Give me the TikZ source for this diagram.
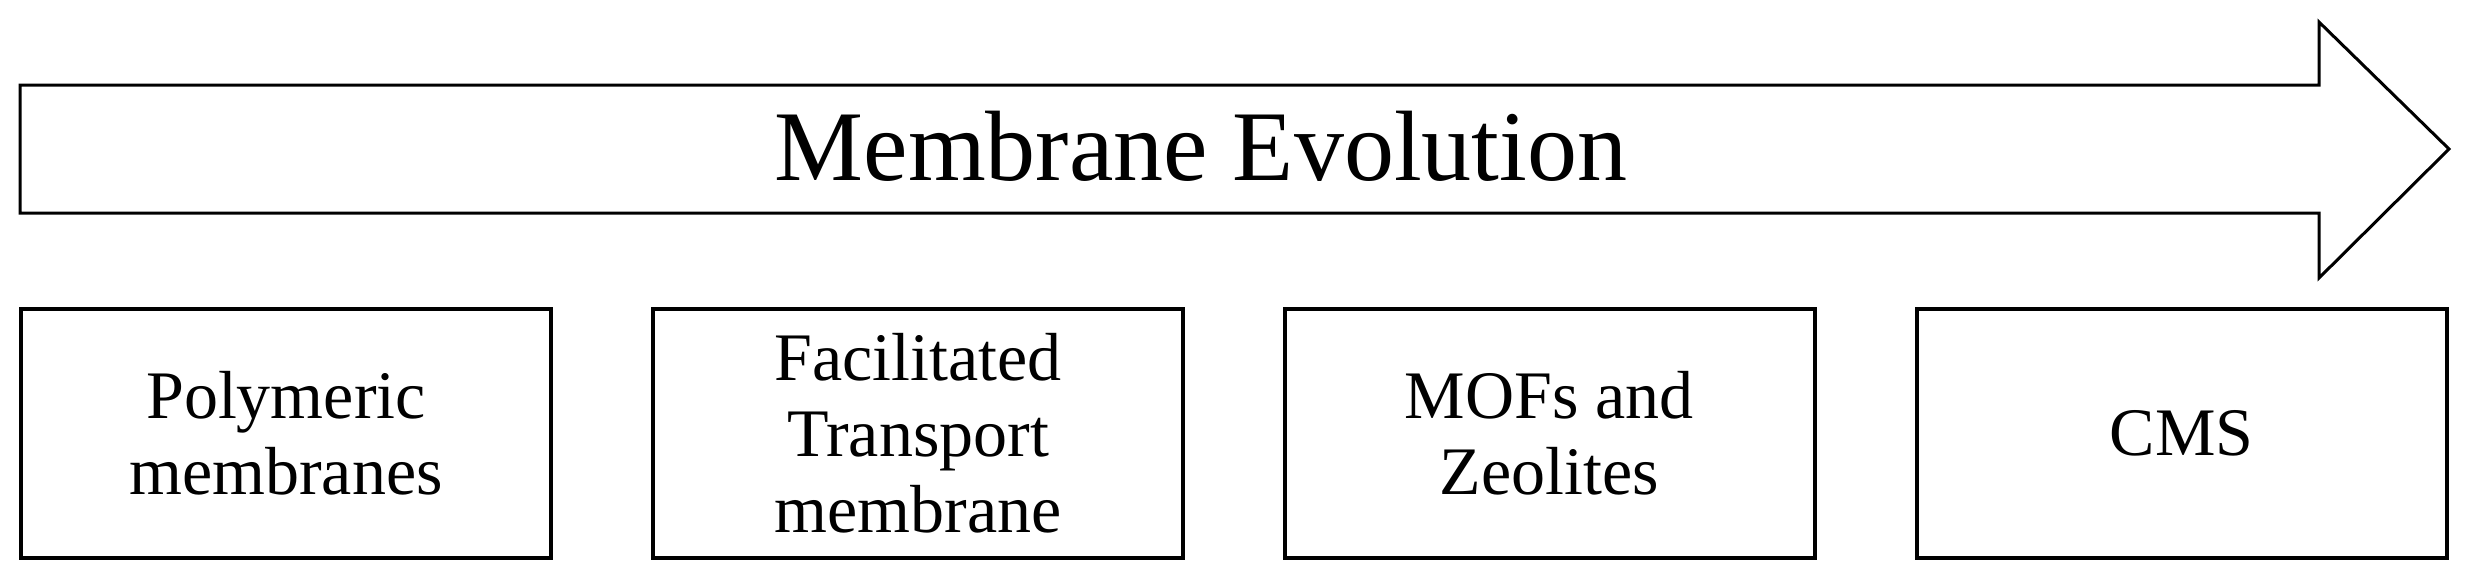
\documentclass[tikz,border=0pt]{standalone}
\usepackage{fontspec}
\setmainfont{Liberation Serif}
\begin{document}
\begin{tikzpicture}[x=1pt,y=-1pt,
  stage/.style={draw=black,line width=4pt,minimum width=530pt,minimum height=249pt,
    inner sep=0pt,align=center,font=\fontsize{68}{76}\selectfont},
  bigarrow/.style={draw=black,line width=3pt,fill=white,line join=miter}]
\useasboundingbox (0,0) rectangle (2466,579);
% evolution arrow
\draw[bigarrow] (20,85) -- (2319,85) -- (2319,22) -- (2449,149) -- (2319,278) -- (2319,213) -- (20,213) -- cycle;
\node[anchor=base,inner sep=0pt,font=\fontsize{100}{110}\selectfont] (title) at (1201,180) {Membrane Evolution};
% stages
\node[stage] (poly) at (286,433.5) {Polymeric\\membranes};
\node[stage] (fac) at (918,433.5) {Facilitated\\Transport\\membrane};
\node[stage] (mof) at (1549.5,433.5) {MOFs and\\Zeolites};
\node[stage] (cms) at (2181.5,433.5) {CMS};
\end{tikzpicture}
\end{document}
